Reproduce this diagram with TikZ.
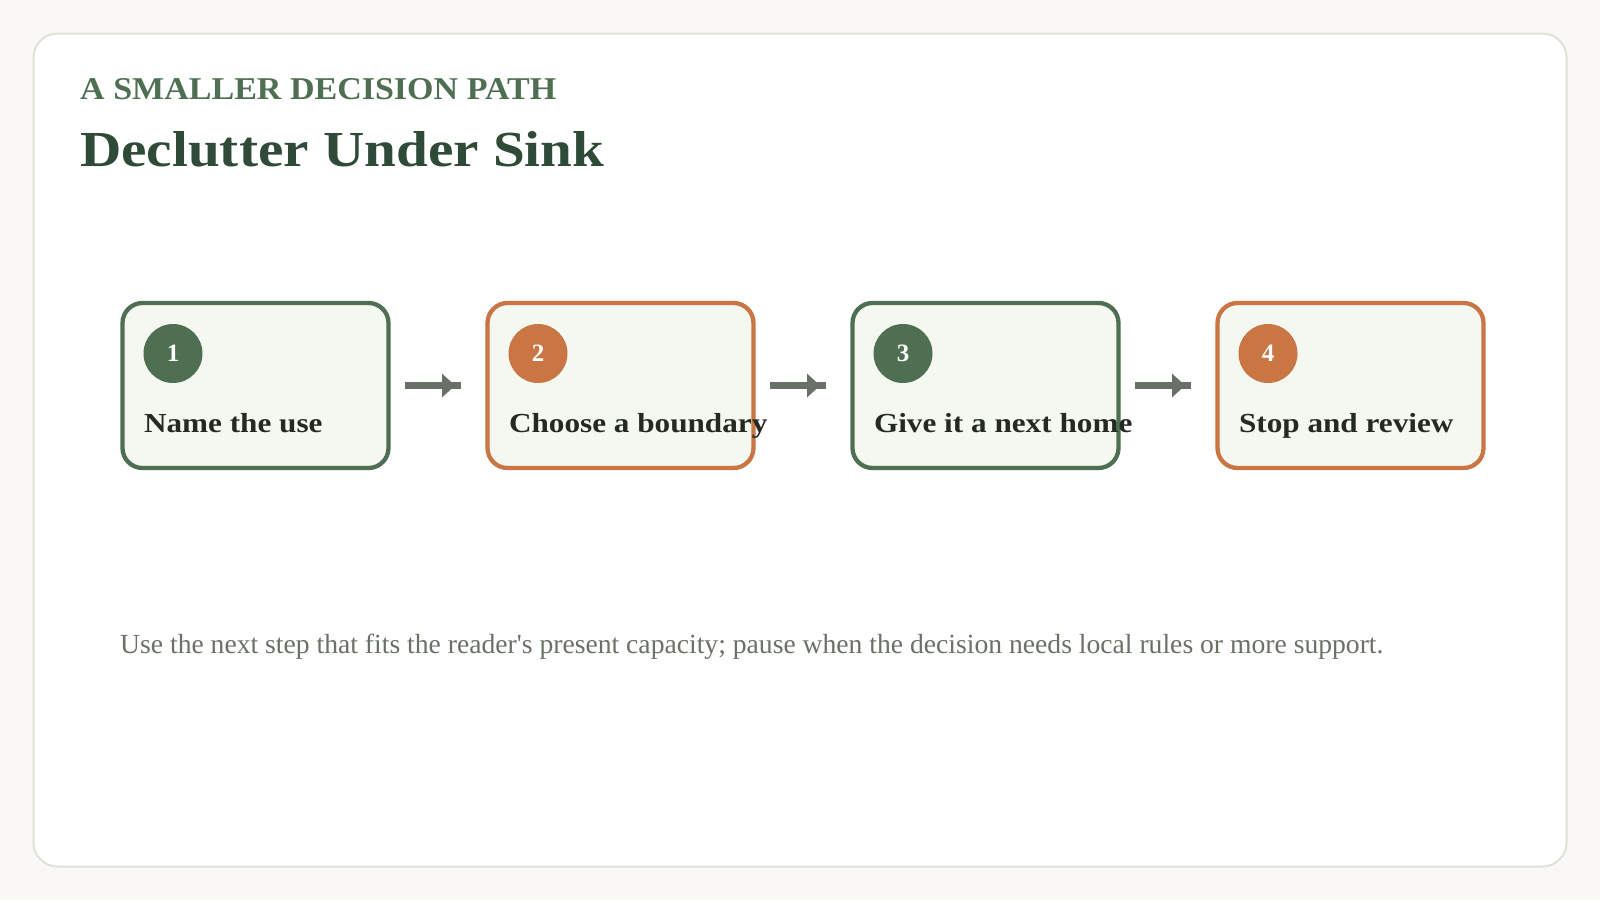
\documentclass[tikz,border=0pt]{standalone}
\usepackage{fontspec}
\setmainfont{Liberation Serif}
\usepackage{graphicx}
\definecolor{pagebg}{HTML}{F9F8F4}
\definecolor{cardline}{HTML}{DDE2DA}
\definecolor{sage}{HTML}{4F6F52}
\definecolor{clay}{HTML}{C97644}
\definecolor{boxfill}{HTML}{F5F8F1}
\definecolor{titleink}{HTML}{2F4A36}
\definecolor{labelink}{HTML}{232A24}
\definecolor{footink}{HTML}{6A7267}
\definecolor{arrowink}{HTML}{687068}
\newcommand{\widelabel}[1]{\scalebox{1.135}[1]{#1}}
\tikzset{
  stepbox/.style={draw=#1, fill=boxfill, line width=4.3pt, rounded corners=20pt,
    minimum width=266pt, minimum height=165pt, inner sep=0pt, outer sep=0pt},
  badge/.style={circle, fill=#1, minimum size=59pt, inner sep=0pt, outer sep=0pt,
    text=white, font=\fontsize{25}{25}\selectfont\bfseries},
  steplabel/.style={anchor=base west, inner sep=0pt, outer sep=0pt, text=labelink,
    font=\fontsize{27.5}{32}\selectfont\bfseries},
  shaft/.style={draw=arrowink, line width=7pt},
  arrowhead/.style={fill=arrowink}
}
\begin{document}
\begin{tikzpicture}[x=1pt,y=-1pt]
\useasboundingbox (0,0) rectangle (1600,900);
\fill[pagebg] (0,0) rectangle (1600,900);
\draw[cardline, fill=white, line width=2pt, rounded corners=24pt] (33.5,33.5) rectangle (1566.5,866.5);

\node[anchor=base west, inner sep=0pt, text=sage] (kicker) at (80,99.3)
  {\resizebox{476pt}{21pt}{\bfseries A SMALLER DECISION PATH}};
\node[anchor=base west, inner sep=0pt, text=titleink] (title) at (80,166.7)
  {\resizebox{524pt}{35pt}{\bfseries Declutter Under Sink}};

\node[stepbox=sage] (b1) at (255.5,385.5) {};
\node[stepbox=clay] (b2) at (620.5,385.5) {};
\node[stepbox=sage] (b3) at (985.5,385.5) {};
\node[stepbox=clay] (b4) at (1350.5,385.5) {};

\node[badge=sage] (n1) at ([xshift=50.5pt,yshift=-50.5pt]b1.north west) {1};
\node[badge=clay] (n2) at ([xshift=50.5pt,yshift=-50.5pt]b2.north west) {2};
\node[badge=sage] (n3) at ([xshift=50.5pt,yshift=-50.5pt]b3.north west) {3};
\node[badge=clay] (n4) at ([xshift=50.5pt,yshift=-50.5pt]b4.north west) {4};

\node[steplabel] (l1) at ([xshift=21.5pt,yshift=-129pt]b1.north west) {\widelabel{Name the use}};
\node[steplabel] (l2) at ([xshift=21.5pt,yshift=-129pt]b2.north west) {\widelabel{Choose a boundary}};
\node[steplabel] (l3) at ([xshift=21.5pt,yshift=-129pt]b3.north west) {\widelabel{Give it a next home}};
\node[steplabel] (l4) at ([xshift=21.5pt,yshift=-129pt]b4.north west) {\widelabel{Stop and review}};

\foreach \a/\b in {b1/b2, b2/b3, b3/b4}{
  \draw[shaft] ([xshift=16.5pt]\a.east) -- ([xshift=-26.5pt]\b.west);
  \fill[arrowhead] ([xshift=-45.5pt,yshift=12pt]\b.west) -- ([xshift=-32.5pt]\b.west)
    -- ([xshift=-45.5pt,yshift=-12pt]\b.west) -- cycle;
}

\node[anchor=base west, inner sep=0pt, text=footink] (foot) at (120,653.3)
  {\resizebox{1263pt}{!}{Use the next step that fits the reader\textquotesingle s present capacity; pause when the decision needs local rules or more support.}};
\end{tikzpicture}
\end{document}
